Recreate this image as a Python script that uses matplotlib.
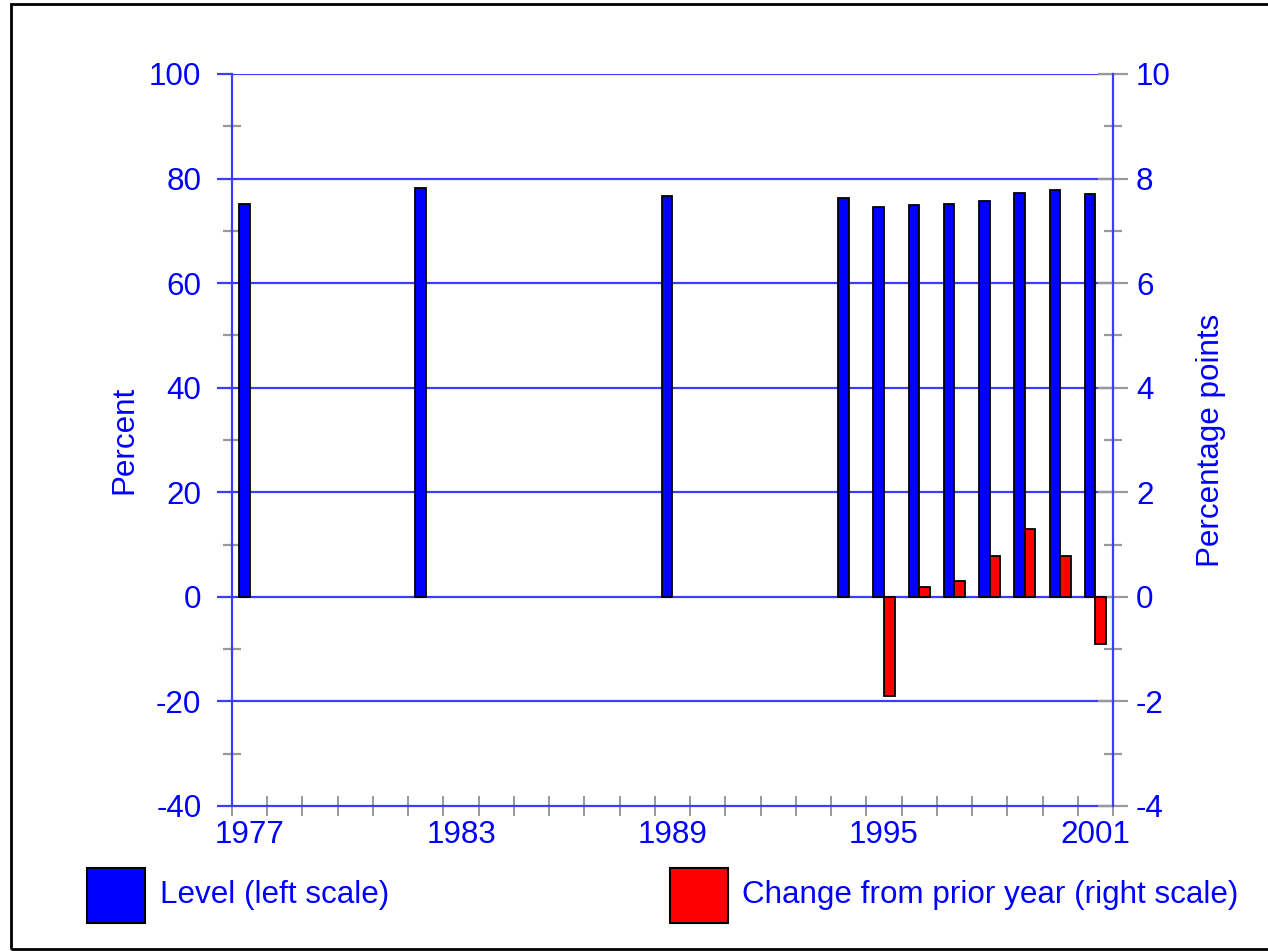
import matplotlib
matplotlib.use("Agg")
import matplotlib.pyplot as plt
from matplotlib.patches import Rectangle
from matplotlib.ticker import FixedLocator, MultipleLocator
import numpy as np

# ---- data ----
level_years = [1977, 1982, 1989, 1994, 1995, 1996, 1997, 1998, 1999, 2000, 2001]
level_values = [75.2, 78.2, 76.7, 76.3, 74.6, 74.9, 75.2, 75.8, 77.3, 77.9, 77.0]
change_years = [1995, 1996, 1997, 1998, 1999, 2000, 2001]
change_values = [-1.89, 0.18, 0.30, 0.78, 1.29, 0.78, -0.90]
xtick_labels = ["1977", "1983", "1989", "1995", "2001"]
legend_labels = ["Level (left scale)", "Change from prior year (right scale)"]
left_label = "Percent"
right_label = "Percentage points"

BLUE = "#0000ff"
LINE = "#3c3cff"
GRAY = "#999999"
FS = 22.6

plt.rcParams["font.family"] = ["Liberation Sans", "DejaVu Sans"]
plt.rcParams["axes.unicode_minus"] = False

fig = plt.figure(figsize=(12.68, 9.51), dpi=100)
W, H = 1268, 951
ax = fig.add_axes([232 / W, 1 - 806 / H, (1113 - 232) / W, (806 - 74) / H])
ax2 = ax.twinx()

bw = 0.3
ax.bar(np.array(level_years) - bw / 2, level_values, width=bw, color=BLUE,
       edgecolor="black", linewidth=1.3, zorder=3)
ax2.bar(np.array(change_years) + bw / 2, change_values, width=bw, color="#ff0000",
        edgecolor="black", linewidth=1.3, zorder=3)

ax.set_xlim(1976.5, 2001.5)
ax.set_ylim(-40, 100)
ax2.set_ylim(-4, 10)

# gridlines
for v in range(-20, 101, 20):
    ax.axhline(v, color=LINE, lw=1.6, zorder=1)

# spines
for s in ["top", "right"]:
    ax.spines[s].set_visible(False)
for s in ["top", "left", "bottom"]:
    ax2.spines[s].set_visible(False)
ax.spines["left"].set_color(LINE)
ax.spines["left"].set_linewidth(1.6)
ax.spines["bottom"].set_color(LINE)
ax.spines["bottom"].set_linewidth(1.6)
ax2.spines["right"].set_color(LINE)
ax2.spines["right"].set_linewidth(1.6)

# left y ticks
ax.yaxis.set_major_locator(MultipleLocator(20))
ax.yaxis.set_minor_locator(MultipleLocator(10))
ax.tick_params(axis="y", which="major", direction="out", length=11, width=1.6,
               color=LINE, labelcolor=BLUE, labelsize=FS, pad=11)
ax.tick_params(axis="y", which="minor", direction="inout", length=13, width=1.6,
               color=GRAY)

# right y ticks
ax2.yaxis.set_major_locator(MultipleLocator(2))
ax2.yaxis.set_minor_locator(MultipleLocator(1))
ax2.tick_params(axis="y", which="major", direction="inout", length=21, width=1.6,
                color=GRAY, labelcolor=BLUE, labelsize=FS, pad=6)
ax2.tick_params(axis="y", which="minor", direction="inout", length=13, width=1.6,
                color=GRAY)

# x ticks: labels at category centres, marks at boundaries
ax.xaxis.set_major_locator(FixedLocator([int(t) for t in xtick_labels]))
ax.set_xticklabels(xtick_labels)
ax.xaxis.set_minor_locator(FixedLocator(np.arange(1976.5, 2002, 1.0)))
ax.tick_params(axis="x", which="major", length=0, labelcolor=BLUE, labelsize=FS, pad=10)
ax.tick_params(axis="x", which="minor", direction="inout", length=15, width=1.4,
               color=GRAY)

ax.set_ylabel(left_label, color=BLUE, fontsize=FS, labelpad=7)
ax2.set_ylabel(right_label, color=BLUE, fontsize=FS, labelpad=18)

# legend (manual, below the plot)
fig.patches.append(Rectangle((87 / W, 1 - 923 / H), 58 / W, 55 / H, transform=fig.transFigure,
                             facecolor=BLUE, edgecolor="black", lw=1.5))
fig.text(160 / W, 1 - 895 / H, legend_labels[0], color=BLUE, fontsize=FS, va="center", ha="left")
fig.patches.append(Rectangle((670 / W, 1 - 923 / H), 58 / W, 55 / H, transform=fig.transFigure,
                             facecolor="#ff0000", edgecolor="black", lw=1.5))
fig.text(742 / W, 1 - 895 / H, legend_labels[1], color=BLUE, fontsize=FS, va="center", ha="left")

# outer frame
fig.patches.append(Rectangle((10.5 / W, 1 - 949 / H), 1.2, (949 - 3.5) / H, transform=fig.transFigure,
                             facecolor="none", edgecolor="black", lw=2))

fig.savefig("out.png", dpi=100)
